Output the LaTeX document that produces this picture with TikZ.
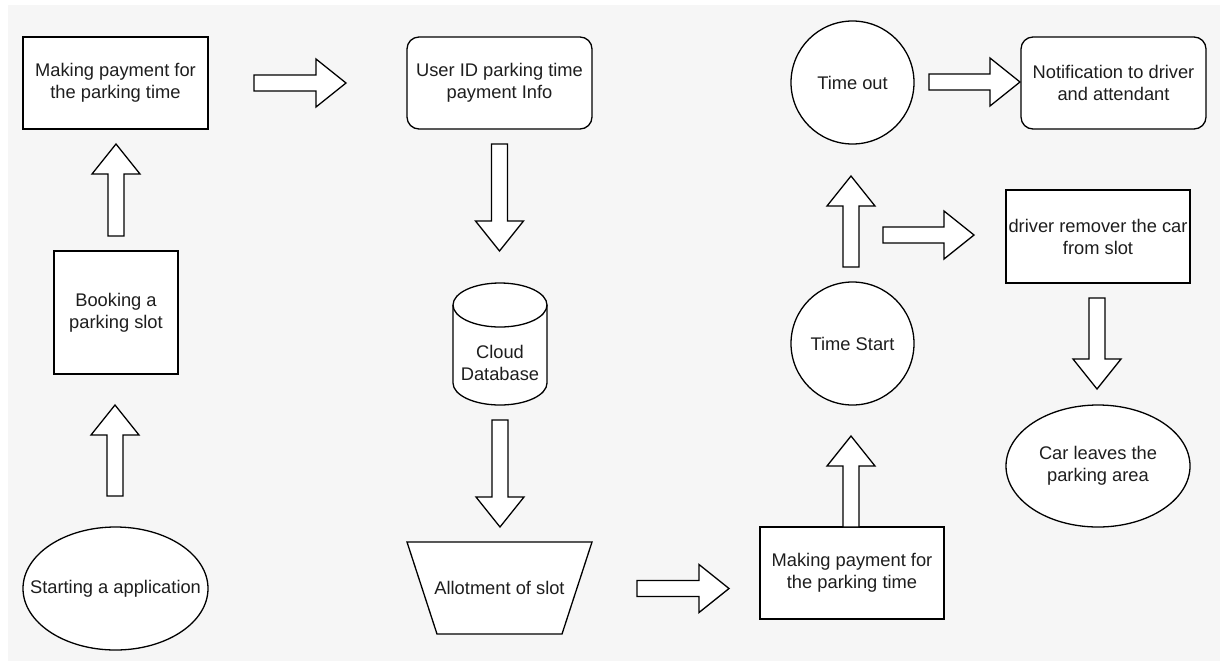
\documentclass[tikz,border=0pt]{standalone}
\usepackage{fontspec}
\setmainfont{Liberation Sans}
\usetikzlibrary{shapes.geometric}
\definecolor{bgray}{HTML}{F6F6F6}
\definecolor{ink}{HTML}{1E1E1E}
\newcommand{\arrR}[3]{\draw[blockarr] (#1,#3-8) -- (#2-30,#3-8) -- (#2-30,#3-24) -- (#2,#3) -- (#2-30,#3+24) -- (#2-30,#3+8) -- (#1,#3+8) -- cycle;}
\newcommand{\arrU}[3]{\draw[blockarr] (#1-8,#2) -- (#1-8,#3+30) -- (#1-24,#3+30) -- (#1,#3) -- (#1+24,#3+30) -- (#1+8,#3+30) -- (#1+8,#2) -- cycle;}
\newcommand{\arrD}[3]{\draw[blockarr] (#1-8,#2) -- (#1-8,#3-30) -- (#1-24,#3-30) -- (#1,#3) -- (#1+24,#3-30) -- (#1+8,#3-30) -- (#1+8,#2) -- cycle;}
\begin{document}
\begin{tikzpicture}[x=1pt,y=-1pt,
  every node/.style={font=\fontsize{18.3}{22}\selectfont, text=ink, align=center, inner sep=0pt},
  box/.style={draw=black, fill=white, line width=1.3pt, minimum width=185pt, minimum height=92pt},
  rbox/.style={box, rounded corners=12pt},
  circ/.style={draw=black, fill=white, line width=1.3pt, circle, minimum size=123pt},
  blockarr/.style={draw=black, fill=white, line width=1.3pt, line join=miter},
  shp/.style={draw=black, fill=white, line width=1.3pt}]
\useasboundingbox (0,0) rectangle (1220,662);
\fill[bgray] (8,5) rectangle (1220,661);

% nodes
\node[box] (pay1) at (115.5,83) {Making payment for\\the parking time};
\node[box, minimum width=124pt, minimum height=123pt] (book) at (116,312.5) {Booking a\\parking slot};
\draw[shp] (115.5,588.5) ellipse [x radius=92.5, y radius=61.5];
\node (start) at (115.5,588.5) {Starting a application};
\node[rbox] (uid) at (499.5,83) {User ID parking time\\payment Info};

% cylinder
\draw[shp] (453,305) -- (453,383) arc[start angle=180, end angle=0, x radius=47, y radius=22]
  -- (547,305) arc[start angle=0, end angle=-180, x radius=47, y radius=22] -- cycle;
\draw[line width=1.3pt] (453,305) arc[start angle=180, end angle=0, x radius=47, y radius=22];
\node (db) at (500,363) {Cloud\\Database};

% trapezoid
\draw[shp] (407,542) -- (592,542) -- (562,634) -- (437,634) -- cycle;
\node (allot) at (499.5,588) {Allotment of slot};

\node[box, minimum width=184pt] (pay2) at (852,573) {Making payment for\\the parking time};
\node[circ] (tstart) at (852.5,343.5) {Time Start};
\node[circ] (tout) at (852.5,82.5) {Time out};
\node[rbox] (notif) at (1113.5,83) {Notification to driver\\and attendant};
\node[box, minimum width=184pt, minimum height=93pt] (driver) at (1098,236.5) {driver remover the car\\from slot};
\draw[shp] (1098,466) ellipse [x radius=92, y radius=61];
\node (car) at (1098,466) {Car leaves the\\parking area};

% block arrows
\arrR{254}{346}{83}
\arrU{116}{236}{144}
\arrU{115}{496}{405}
\arrD{499.5}{144}{251}
\arrD{500}{420}{527}
\arrR{637}{729}{588.5}
\arrU{851}{527}{436}
\arrU{851}{267}{176}
\arrR{929}{1020}{82}
\arrR{883}{974}{235}
\arrD{1097}{298}{389}
\end{tikzpicture}
\end{document}
